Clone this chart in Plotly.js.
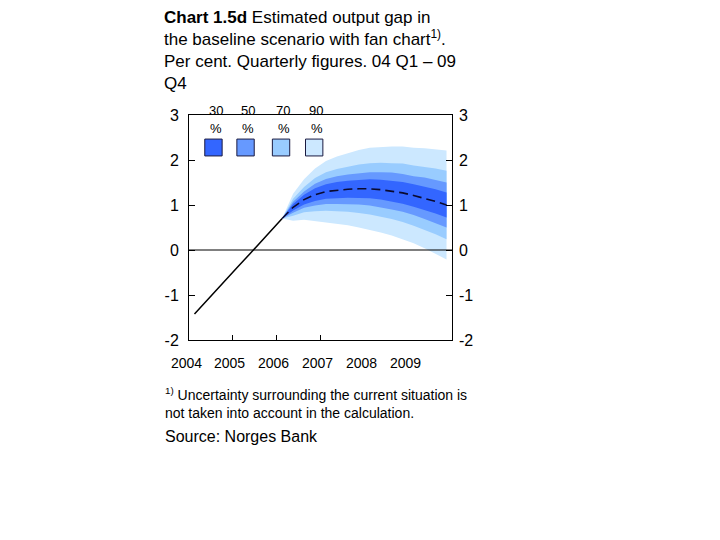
<!DOCTYPE html>
<html lang="en">
<head>
    <meta charset="UTF-8">
    <title>Chart 1.5d</title>
    <script src="https://cdn.plot.ly/plotly-3.0.1.min.js"></script>
    <style>
        body { margin: 0; background: #fff; }
    </style>
</head>

<body>
<div id="plot"></div>

<script>

    // output gap, 2004 Q1 - 2006 Q1 (history)
    const history = [-1.42, -1.15, -0.89, -0.62, -0.36, -0.10, 0.17, 0.44, 0.70]

    // projection 2006 Q1 - 2009 Q4, centre line and fan bands
    const projection = [0.70, 0.95, 1.12, 1.23, 1.30, 1.33, 1.35, 1.36, 1.36, 1.34, 1.31, 1.27, 1.21, 1.15, 1.08, 1.00]
    const upper90 = [0.70, 1.25, 1.57, 1.81, 1.98, 2.08, 2.15, 2.22, 2.27, 2.29, 2.30, 2.30, 2.27, 2.26, 2.24, 2.21]
    const lower90 = [0.70, 0.65, 0.67, 0.65, 0.62, 0.58, 0.55, 0.50, 0.45, 0.39, 0.32, 0.24, 0.15, 0.04, -0.08, -0.21]
    const upper70 = [0.70, 1.14, 1.40, 1.60, 1.73, 1.80, 1.85, 1.90, 1.93, 1.94, 1.93, 1.92, 1.88, 1.85, 1.81, 1.76]
    const lower70 = [0.70, 0.76, 0.84, 0.86, 0.87, 0.86, 0.85, 0.82, 0.79, 0.74, 0.69, 0.62, 0.54, 0.45, 0.35, 0.24]
    const upper50 = [0.70, 1.07, 1.30, 1.47, 1.58, 1.64, 1.68, 1.71, 1.73, 1.73, 1.72, 1.69, 1.64, 1.61, 1.56, 1.50]
    const lower50 = [0.70, 0.83, 0.94, 0.99, 1.02, 1.02, 1.02, 1.01, 0.99, 0.95, 0.90, 0.85, 0.78, 0.69, 0.60, 0.50]
    const upper30 = [0.70, 1.02, 1.23, 1.37, 1.46, 1.51, 1.54, 1.56, 1.57, 1.56, 1.54, 1.51, 1.46, 1.41, 1.35, 1.28]
    const lower30 = [0.70, 0.88, 1.01, 1.09, 1.14, 1.15, 1.16, 1.16, 1.15, 1.12, 1.08, 1.03, 0.96, 0.89, 0.81, 0.72]

    const bandNames = ['30 %', '50 %', '70 %', '90 %']
    const bandColors = ['#3366ff', '#6699ff', '#99ccff', '#cce8ff']

    const yearLabels = ['2004', '2005', '2006', '2007', '2008', '2009']
    const yearTicks = [2005, 2006, 2007]
    const yTicks = [-2, -1, 0, 1, 2, 3]

    // quarter positions on a year scale, 2004 Q1 = first
    const quarters = []
    for (let i = 0; i < 24; i++) {
        quarters.push(2004 + i / 4 + 0.125)
    }
    const histX = quarters.slice(0, history.length)
    const projX = quarters.slice(history.length - 1)

    const fontName = '"Liberation Sans", Arial, sans-serif'

    function band(up, lo, color) {
        return {
            x: projX.concat(projX.slice().reverse()),
            y: up.concat(lo.slice().reverse()),
            type: 'scatter',
            mode: 'lines',
            fill: 'toself',
            fillcolor: color,
            line: { width: 0 },
            hoverinfo: 'skip',
            showlegend: false
        }
    }

    const data = [
        band(upper90, lower90, bandColors[3]),
        band(upper70, lower70, bandColors[2]),
        band(upper50, lower50, bandColors[1]),
        band(upper30, lower30, bandColors[0]),
        {
            x: histX, y: history, type: 'scatter', mode: 'lines',
            line: { color: '#000', width: 1.5 }, showlegend: false
        },
        {
            x: projX, y: projection, type: 'scatter', mode: 'lines',
            line: { color: '#0a0a30', width: 1.6, dash: '9px,5px' }, showlegend: false
        },
        // carries the right-hand axis
        { x: [2004], y: [0], xaxis: 'x', yaxis: 'y2', mode: 'markers', marker: { opacity: 0 }, showlegend: false }
    ]

    // legend boxes drawn by hand, the labels sit above them
    const legendX = [0.093, 0.215, 0.350, 0.476]
    const shapes = [{
        type: 'line', xref: 'paper', x0: 0, x1: 1, yref: 'y', y0: 0, y1: 0,
        line: { color: '#000', width: 1 }, layer: 'above'
    }]
    const annotations = []
    legendX.forEach((lx, i) => {
        shapes.push({
            type: 'rect', xref: 'paper', yref: 'paper',
            x0: lx - 0.033, x1: lx + 0.033, y0: 0.818, y1: 0.893,
            fillcolor: bandColors[i], line: { color: '#1a1a40', width: 1 }
        })
        const parts = bandNames[i].split(' ')
        annotations.push({
            xref: 'paper', yref: 'paper', x: lx + 0.008, y: 1.022,
            xanchor: 'center', yanchor: 'middle',
            text: parts[0], showarrow: false, font: { size: 13, family: fontName, color: '#000' }
        })
        annotations.push({
            xref: 'paper', yref: 'paper', x: lx + 0.010, y: 0.94,
            xanchor: 'center', yanchor: 'middle',
            text: parts[1], showarrow: false, font: { size: 13, family: fontName, color: '#000' }
        })
    })

    // year labels sit a little left of the year start, as in the original
    yearLabels.forEach(label => {
        annotations.push({
            xref: 'x', yref: 'paper', x: Number(label), xshift: -3, y: -0.102,
            xanchor: 'center', yanchor: 'middle',
            text: label, showarrow: false, font: { size: 14, family: fontName, color: '#000' }
        })
    })

    annotations.push({
        xref: 'paper', yref: 'paper', x: -0.097, y: -0.19,
        xanchor: 'left', yanchor: 'top', align: 'left', showarrow: false,
        text: '<sup>1)</sup> Uncertainty surrounding the current situation is<br>not taken into account in the calculation.',
        font: { size: 14, family: fontName, color: '#000' }
    })
    annotations.push({
        xref: 'paper', yref: 'paper', x: -0.097, y: -0.38,
        xanchor: 'left', yanchor: 'top', align: 'left', showarrow: false,
        text: 'Source: Norges Bank',
        font: { size: 16, family: fontName, color: '#000' }
    })

    const layout = {
        width: 720,
        height: 540,
        margin: { l: 189, r: 268, t: 115, b: 200 },
        paper_bgcolor: '#fff',
        plot_bgcolor: '#fff',
        font: { family: fontName, color: '#000' },
        title: {
            text: '<b>Chart 1.5d</b> Estimated output gap in<br>the baseline scenario with fan chart<sup>1)</sup>.<br>Per cent. Quarterly figures. 04 Q1 – 09<br>Q4',
            xref: 'container', yref: 'container',
            x: 164 / 720, xanchor: 'left',
            y: 1 - 23 / 540, yanchor: 'top',
            font: { size: 17, family: fontName, color: '#000' }
        },
        xaxis: {
            range: [2004, 2010],
            tickvals: yearTicks,
            ticks: 'inside', ticklen: 5, tickcolor: '#000',
            showticklabels: false,
            showline: true, mirror: true, linecolor: '#000', linewidth: 1,
            showgrid: false, zeroline: false, fixedrange: true
        },
        yaxis: {
            range: [-2, 3],
            tickvals: yTicks,
            ticktext: yTicks.map(String),
            ticks: 'inside', ticklen: 6, tickcolor: '#000',
            ticklabelstandoff: 6,
            tickfont: { size: 16 },
            showline: true, mirror: true, linecolor: '#000', linewidth: 1,
            showgrid: false, zeroline: false, fixedrange: true
        },
        yaxis2: {
            range: [-2, 3],
            overlaying: 'y', anchor: 'x', side: 'right',
            tickvals: yTicks,
            ticktext: yTicks.map(String),
            ticks: 'inside', ticklen: 6, tickcolor: '#000',
            ticklabelstandoff: 6,
            tickfont: { size: 16 },
            showline: false, showgrid: false, zeroline: false
        },
        shapes: shapes,
        annotations: annotations,
        showlegend: false
    }

    Plotly.newPlot('plot', data, layout, { displayModeBar: false, staticPlot: true })

</script>

</body>
</html>
